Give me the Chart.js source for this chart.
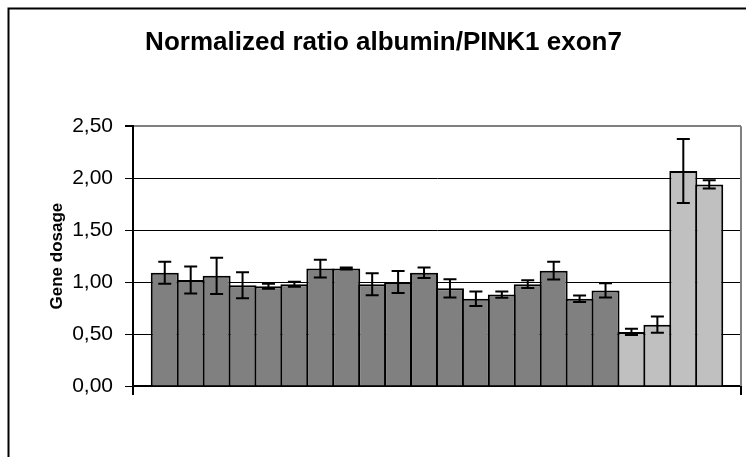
<!DOCTYPE html>
<html>
<head>
<meta charset="utf-8">
<script src="https://cdn.jsdelivr.net/npm/chart.js@4"></script>
<style>
  html, body { margin: 0; padding: 0; background: #fff; }
  #wrap { width: 746px; height: 457px; position: relative; }
</style>
</head>
<body>
<div id="wrap"><canvas id="c" width="746" height="457"></canvas></div>
<script>
// ---- data ----
const samples = ['1','2','3','4','5','6','7','8','9','10','11','12','13','14','15','16','17','18','19','20','21','22'];
const ratios  = [1.09, 1.02, 1.06, 0.97, 0.96, 0.98, 1.13, 1.13, 0.98, 1.00, 1.09, 0.94, 0.84, 0.88, 0.98, 1.11, 0.84, 0.92, 0.52, 0.59, 2.07, 1.94];
const errors  = [0.105, 0.13, 0.175, 0.125, 0.024, 0.024, 0.086, 0.01, 0.106, 0.106, 0.05, 0.088, 0.07, 0.03, 0.038, 0.086, 0.032, 0.069, 0.03, 0.078, 0.308, 0.04];
const groups  = ['A','A','A','A','A','A','A','A','A','A','A','A','A','A','A','A','A','A','B','B','B','B'];
const yTicks  = [0, 0.5, 1.0, 1.5, 2.0, 2.5];
const titleText = 'Normalized ratio albumin/PINK1 exon7';
const yTitle = 'Gene dosage';

const groupColor = { A: '#808080', B: '#C0C0C0' };
const points = samples.map((s, i) => ({ x: i, y: ratios[i] }));

const FONT = "'Liberation Sans', Arial, sans-serif";

const framePlugin = {
  id: 'frame',
  beforeDraw(chart) {
    const ctx = chart.ctx;
    ctx.save();
    ctx.strokeStyle = '#000';
    ctx.lineWidth = 2;
    ctx.strokeRect(8.5, 8.5, 800, 500);
    ctx.restore();
  },
  afterDatasetsDraw(chart) {
    const ctx = chart.ctx;
    const xs = chart.scales.x, ys = chart.scales.y;
    const a = chart.chartArea;
    ctx.save();
    // right plot border (gray)
    ctx.strokeStyle = '#808080';
    ctx.lineWidth = 2;
    ctx.beginPath();
    ctx.moveTo(a.right, a.top);
    ctx.lineTo(a.right, a.bottom);
    ctx.stroke();
    // error bars
    ctx.strokeStyle = '#000';
    ctx.lineWidth = 2;
    ratios.forEach((v, i) => {
      const x = xs.getPixelForValue(i);
      const y1 = ys.getPixelForValue(v + errors[i]);
      const y0 = ys.getPixelForValue(v - errors[i]);
      ctx.beginPath();
      ctx.moveTo(x, y1); ctx.lineTo(x, y0);
      ctx.moveTo(x - 6.5, y1); ctx.lineTo(x + 6.5, y1);
      ctx.moveTo(x - 6.5, y0); ctx.lineTo(x + 6.5, y0);
      ctx.stroke();
    });
    ctx.restore();
  }
};

new Chart(document.getElementById('c'), {
  type: 'bar',
  data: {
    datasets: [{
      data: points,
      backgroundColor: groups.map(g => groupColor[g]),
      borderColor: '#000',
      borderWidth: 2,
      borderSkipped: 'start',
      barPercentage: 1.08,
      categoryPercentage: 1.0
    }]
  },
  options: {
    responsive: false,
    animation: false,
    layout: { padding: { left: 26, right: 5, top: 0, bottom: 0 } },
    plugins: {
      legend: { display: false },
      tooltip: { enabled: false },
      title: {
        display: true,
        text: titleText,
        color: '#000',
        font: { family: FONT, size: 26, weight: 'bold', lineHeight: 1.2 },
        padding: { top: 27, bottom: 68 }
      }
    },
    scales: {
      x: {
        type: 'linear',
        min: -1.225,
        max: 22.225,
        offset: false,
        afterBuildTicks: s => { s.ticks = [{ value: s.min }, { value: s.max }]; },
        afterFit: s => { s.height = 71; },
        ticks: { display: false },
        grid: { display: true, offset: false, drawOnChartArea: false, drawTicks: true, tickLength: 9, color: '#000', tickColor: '#000', lineWidth: 2 },
        border: { display: true, color: '#000', width: 2 }
      },
      y: {
        min: 0,
        max: 2.5,
        afterBuildTicks: s => { s.ticks = yTicks.map(v => ({ value: v })); },
        afterFit: s => { s.width = 107; },
        ticks: {
          color: '#000',
          padding: 12,
          font: { family: FONT, size: 21 },
          callback: v => Number(v).toFixed(2).replace('.', ',')
        },
        grid: {
          color: c => (c.tick && c.tick.value === 2.5) ? '#808080' : '#000',
          lineWidth: c => (c.tick && c.tick.value === 2.5) ? 2 : 1,
          tickColor: '#000',
          tickLength: 8,
          drawTicks: true
        },
        border: { display: true, color: '#000', width: 2 },
        title: {
          display: true,
          text: yTitle,
          color: '#000',
          font: { family: FONT, size: 17, weight: 'bold', lineHeight: 1.2 },
          padding: { top: 21, bottom: 0 }
        }
      }
    }
  },
  plugins: [framePlugin]
});
</script>
</body>
</html>
